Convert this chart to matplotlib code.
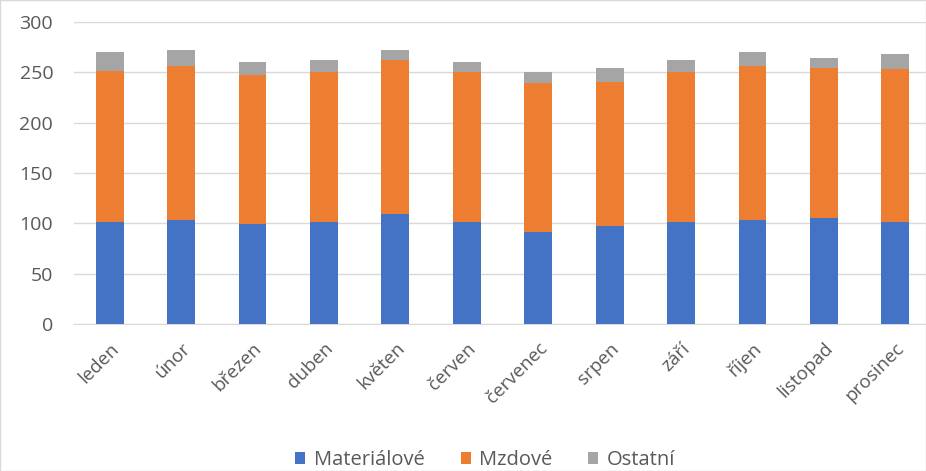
import matplotlib
matplotlib.use("Agg")
import matplotlib.pyplot as plt
import numpy as np

months = ["leden", "únor", "březen", "duben", "květen", "červen",
          "červenec", "srpen", "září", "říjen", "listopad", "prosinec"]
materialove = [101, 103, 99.5, 101, 109, 101, 91, 97, 101, 103, 105, 101]
mzdove = [150, 153, 147.5, 149.5, 153, 149, 148, 143, 149.5, 153, 149, 152]
ostatni = [19, 16, 13, 11.5, 10, 10, 11, 14, 11.5, 14, 10, 15]
series_names = ["Materiálové", "Mzdové", "Ostatní"]
colors = ["#4472C4", "#ED7D31", "#A5A5A5"]

plt.rcParams['font.family'] = ['Open Sans', 'DejaVu Sans']

fig = plt.figure(figsize=(9.26, 4.71), dpi=100)
ax = fig.add_axes([74/926, (471-324)/471, (926-74)/926, (324-22)/471])

x = np.arange(len(months))
w = 0.39
b1 = np.array(materialove)
b2 = b1 + np.array(mzdove)
ax.bar(x, materialove, w, color=colors[0], label=series_names[0], zorder=3)
ax.bar(x, mzdove, w, bottom=b1, color=colors[1], label=series_names[1], zorder=3)
ax.bar(x, ostatni, w, bottom=b2, color=colors[2], label=series_names[2], zorder=3)

ax.set_xlim(-0.5, 11.43)
ax.set_ylim(0, 300)
ax.set_yticks(range(0, 301, 50))
ax.yaxis.grid(True, color="#D9D9D9", linewidth=1, zorder=0)
for s in ["top", "right", "left"]:
    ax.spines[s].set_visible(False)
ax.spines["bottom"].set_color("#D9D9D9")
ax.tick_params(axis="both", length=0, colors="#595959")
ax.tick_params(axis="y", pad=15, labelsize=14)
ax.tick_params(axis="x", pad=11, labelsize=13.5)
ax.set_xticks(x)
ax.set_xticklabels(months, rotation=45, ha="right", rotation_mode="anchor")

fig.legend(loc="center", bbox_to_anchor=(485/926, 1 - 460/471), ncol=3, frameon=False,
           fontsize=14.5, handlelength=0.5, handleheight=0.5, handletextpad=0.4,
           columnspacing=1.8, labelcolor="#595959")

fig.patches.append(plt.Rectangle((0, 0), 1, 1, transform=fig.transFigure,
                                 fill=False, edgecolor="#D9D9D9", linewidth=1))
fig.savefig("out.png", dpi=100)
